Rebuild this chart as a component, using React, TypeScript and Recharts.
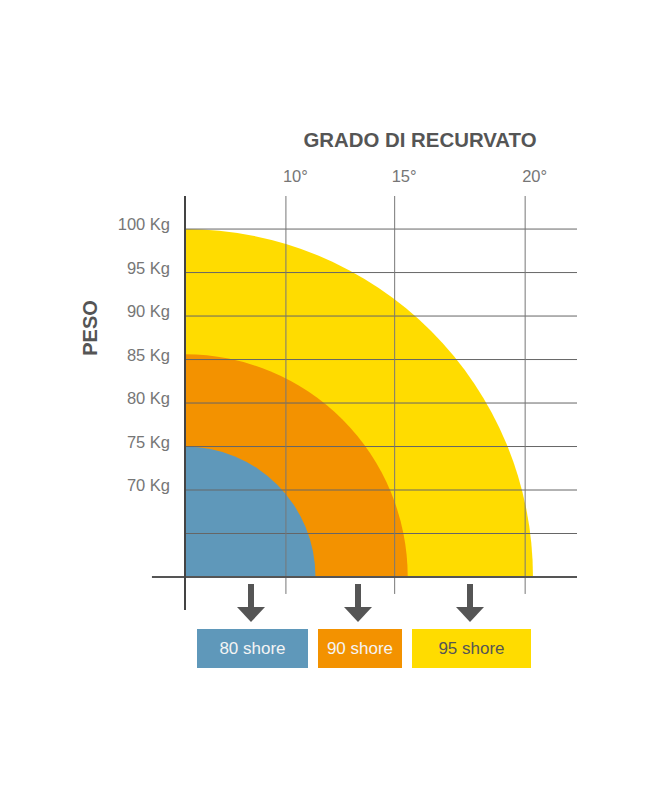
import React from 'react';
import { ComposedChart, XAxis, YAxis, ReferenceArea, ReferenceLine, Legend } from 'recharts';

// peso (asse verticale)
const weightTicks = [65, 70, 75, 80, 85, 90, 95, 100];
const weightLabels = ['', '70 Kg', '75 Kg', '80 Kg', '85 Kg', '90 Kg', '95 Kg', '100 Kg'];

// grado di recurvato: posizione sull'asse orizzontale (stessa unità del peso)
const gradeTicks = [11.6, 24.1, 39.1];
const gradeLabels = ['10°', '15°', '20°'];

// fasce di durezza e peso massimo raggiunto
const shores = ['80 shore', '90 shore', '95 shore'];
const shoreMaxWeight = [75, 85.6, 100];

const W = 671;
const H = 800;
const BASE = 60;
const Y_MAX = 103.8;
const X_MAX = 45.06;
const COLORS = ['#5f98ba', '#f39200', '#ffdc00'];
const TEXT_COLORS = ['#f4f4f4', '#f4f4f4', '#555555'];
const BOX_LEFT = [197, 318, 412];
const BOX_WIDTH = [111, 84, 119];
const FONT = '"Liberation Sans", Arial, Helvetica, sans-serif';
const TICK_COLOR = '#767676';

const bands = shores.map((name, i) => ({
  name,
  reach: shoreMaxWeight[i] - BASE,
  top: shoreMaxWeight[i],
  color: COLORS[i],
  textColor: TEXT_COLORS[i],
}));

const QuarterDisc = ({ x, y, width, height, color }: any) => (
  <path
    d={`M${x},${y + height} L${x},${y} A${width},${height} 0 0 1 ${x + width},${y + height} Z`}
    fill={color}
  />
);

const GradeTick = ({ x, y, payload }: any) => (
  <text x={x - 3} y={y} textAnchor="start" fill={TICK_COLOR} fontSize={16.5} fontFamily={FONT}>
    {gradeLabels[gradeTicks.indexOf(payload.value)]}
  </text>
);

const WeightTick = ({ x, y, payload }: any) => (
  <text x={x} y={y + 1} textAnchor="end" fill={TICK_COLOR} fontSize={16.5} fontFamily={FONT}>
    {weightLabels[weightTicks.indexOf(payload.value)]}
  </text>
);

const GradeTitle = ({ viewBox }: any) => (
  <text
    x={viewBox.x + viewBox.width / 2 + 39}
    y={viewBox.y - 9}
    textAnchor="middle"
    fill="#555"
    fontSize={20.4}
    fontWeight="bold"
    fontFamily={FONT}
  >
    GRADO DI RECURVATO
  </text>
);

const WeightTitle = ({ viewBox }: any) => {
  const x = viewBox.x - 8.5;
  const y = viewBox.y + 132;
  return (
    <text
      x={x}
      y={y}
      transform={`rotate(-90 ${x} ${y})`}
      textAnchor="middle"
      fill="#555"
      fontSize={20}
      fontWeight="bold"
      fontFamily={FONT}
    >
      PESO
    </text>
  );
};

const ShoreLegend = () => (
  <div style={{ position: 'relative', width: W, height: 90 }}>
    {bands.map((b, i) => {
      const cx = BOX_LEFT[i] + BOX_WIDTH[i] / 2 - 2;
      return (
        <React.Fragment key={b.name}>
          <svg
            width={30}
            height={38}
            style={{ position: 'absolute', left: cx - 15, top: 2 }}
          >
            <rect x={12} y={0} width={6} height={24} fill="#555" />
            <polygon points="1,23 29,23 15,38" fill="#555" />
          </svg>
          <div
            style={{
              position: 'absolute',
              left: BOX_LEFT[i],
              top: 47,
              width: BOX_WIDTH[i],
              height: 39,
              background: b.color,
              color: b.textColor,
              fontFamily: FONT,
              fontSize: 17,
              lineHeight: '39px',
              textAlign: 'center',
            }}
          >
            {b.name}
          </div>
        </React.Fragment>
      );
    })}
  </div>
);

export default function App() {
  return (
    <div style={{ position: 'absolute', left: 0, top: 0, width: W, height: H, background: '#fff' }}>
      <ComposedChart
        width={W}
        height={H}
        data={bands}
        margin={{ top: 156, right: 94, bottom: 223, left: 105 }}
      >
        <XAxis
          xAxisId="g"
          dataKey="reach"
          type="number"
          orientation="top"
          domain={[0, X_MAX]}
          ticks={gradeTicks}
          height={40}
          axisLine={false}
          tickLine={false}
          tickSize={0}
          tickMargin={14}
          tick={<GradeTick />}
          label={<GradeTitle />}
          allowDataOverflow
        />
        <YAxis
          yAxisId="w"
          dataKey="top"
          type="number"
          domain={[BASE, Y_MAX]}
          ticks={weightTicks}
          width={80}
          axisLine={false}
          tickLine={false}
          tickSize={0}
          tickMargin={15}
          tick={<WeightTick />}
          label={<WeightTitle />}
          allowDataOverflow
        />
        {[...bands].reverse().map((b) => (
          <ReferenceArea
            key={b.name}
            xAxisId="g"
            yAxisId="w"
            x1={0}
            x2={b.reach}
            y1={BASE}
            y2={b.top}
            ifOverflow="visible"
            shape={(p: any) => <QuarterDisc {...p} color={b.color} />}
          />
        ))}
        {weightTicks.map((v) => (
          <ReferenceLine key={`h${v}`} xAxisId="g" yAxisId="w" y={v} stroke="#666" strokeWidth={1} />
        ))}
        {gradeTicks.map((v) => (
          <ReferenceLine
            key={`v${v}`}
            xAxisId="g"
            yAxisId="w"
            segment={[{ x: v, y: 58.05 }, { x: v, y: Y_MAX }]}
            ifOverflow="visible"
            stroke="#777"
            strokeWidth={1}
          />
        ))}
        <ReferenceLine
          xAxisId="g"
          yAxisId="w"
          segment={[{ x: -3.8, y: BASE }, { x: X_MAX, y: BASE }]}
          ifOverflow="visible"
          stroke="#555"
          strokeWidth={2}
        />
        <ReferenceLine
          xAxisId="g"
          yAxisId="w"
          segment={[{ x: 0, y: 56.2 }, { x: 0, y: Y_MAX }]}
          ifOverflow="visible"
          stroke="#444"
          strokeWidth={2}
        />
        <Legend
          layout="horizontal"
          verticalAlign="middle"
          align="center"
          content={<ShoreLegend />}
          wrapperStyle={{ position: 'absolute', left: 0, top: 582, width: W, height: 90, margin: 0 }}
        />
      </ComposedChart>
    </div>
  );
}
